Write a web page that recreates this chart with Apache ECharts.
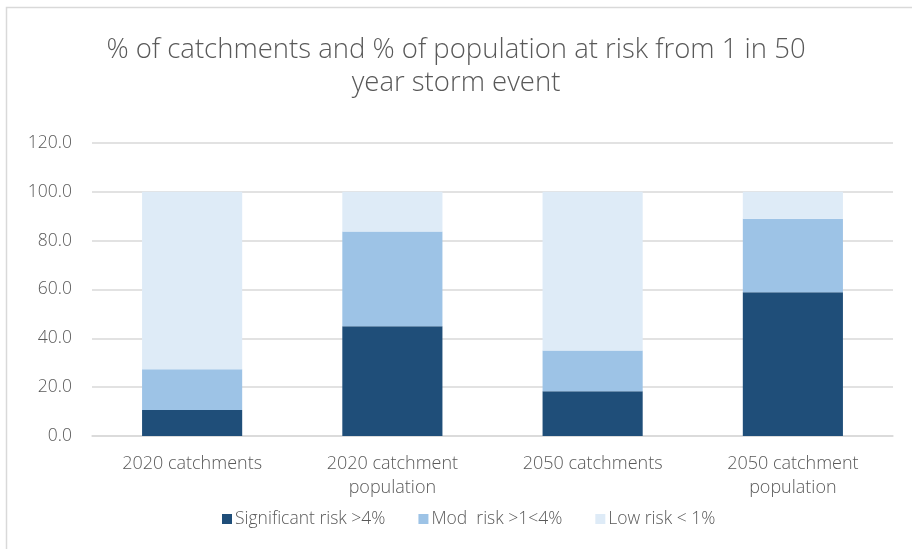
<!DOCTYPE html>
<html>
<head>
<meta charset="utf-8">
<script src="https://cdn.jsdelivr.net/npm/echarts@6/dist/echarts.min.js"></script>
<style>
html,body{margin:0;padding:0;background:#fff;}
#chart{width:912px;height:549px;}
</style>
</head>
<body>
<div id="chart"></div>
<script>
const categories = ['2020 catchments', '2020 catchment\npopulation', '2050 catchments', '2050 catchment\npopulation'];
const significantRisk = [10.6, 45.0, 18.3, 58.9];
const modRisk = [16.7, 38.8, 16.7, 30.1];
const lowRisk = [72.7, 16.2, 65.0, 11.0];
const seriesNames = ['Significant risk >4%', 'Mod  risk >1<4%', 'Low risk < 1%'];
const titleText = '% of catchments and % of population at risk from 1 in 50\nyear storm event';

const FONT = '"Open Sans", Roboto, sans-serif';
const TEXT = '#595959';
const chart = echarts.init(document.getElementById('chart'), null, {renderer: 'canvas'});
chart.setOption({
  animation: false,
  backgroundColor: '#fff',
  graphic: [{
    type: 'rect',
    shape: {x: 6.5, y: 7.5, width: 930, height: 560},
    style: {fill: 'none', stroke: '#D9D9D9', lineWidth: 1.5},
    silent: true
  }],
  title: {
    text: titleText,
    left: 'center',
    top: 29,
    textStyle: {fontFamily: FONT, fontWeight: 300, fontSize: 27.5, color: TEXT, lineHeight: 33}
  },
  legend: {
    bottom: 16,
    left: 217,
    itemWidth: 10,
    itemHeight: 10,
    itemGap: 33,
    icon: 'rect',
    textStyle: {fontFamily: FONT, fontWeight: 300, fontSize: 17.5, color: TEXT, padding: [0, 0, 0, -2]},
    data: seriesNames
  },
  grid: {left: 92, right: 19, top: 143, bottom: 113, containLabel: false},
  xAxis: {
    type: 'category',
    data: categories,
    axisLine: {lineStyle: {color: '#D9D9D9', width: 1.5}},
    axisTick: {show: false},
    axisLabel: {fontFamily: FONT, fontWeight: 300, fontSize: 18, color: TEXT, lineHeight: 24, margin: 16}
  },
  yAxis: {
    type: 'value',
    min: 0,
    max: 120,
    interval: 20,
    axisLine: {show: false},
    axisTick: {show: false},
    splitLine: {lineStyle: {color: '#D9D9D9', width: 1.5}},
    axisLabel: {fontFamily: FONT, fontWeight: 300, fontSize: 17.5, color: TEXT, margin: 20,
      formatter: v => v.toFixed(1)}
  },
  series: [
    {name: seriesNames[0], type: 'bar', stack: 'a', data: significantRisk, barWidth: '50%', itemStyle: {color: '#1F4E79'}},
    {name: seriesNames[1], type: 'bar', stack: 'a', data: modRisk, barWidth: '50%', itemStyle: {color: '#9DC3E6'}},
    {name: seriesNames[2], type: 'bar', stack: 'a', data: lowRisk, barWidth: '50%', itemStyle: {color: '#DEEBF7'}}
  ]
});
</script>
</body>
</html>
